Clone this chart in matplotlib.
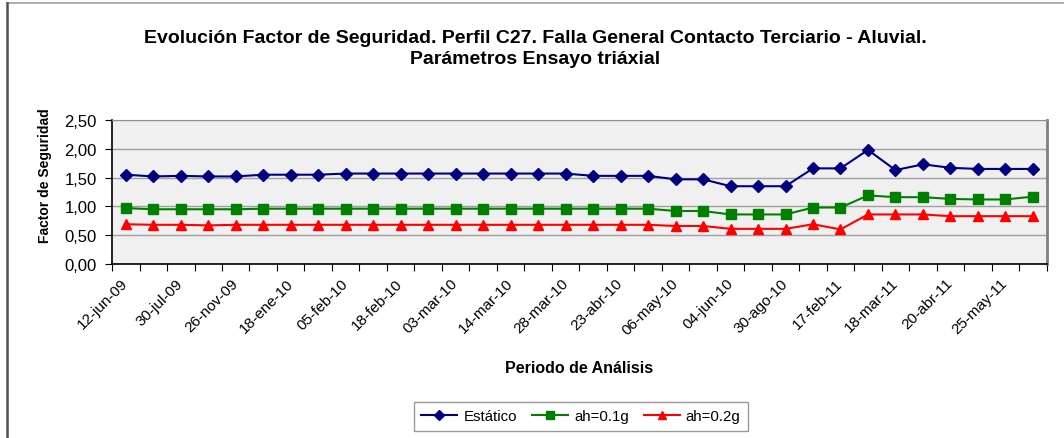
import matplotlib
matplotlib.use("Agg")
import matplotlib.pyplot as plt
from matplotlib.lines import Line2D
from matplotlib.ticker import FixedLocator, FuncFormatter
import numpy as np

plt.rcParams['font.family'] = ['Liberation Sans', 'DejaVu Sans']

# Fechas rotuladas (una de cada dos campañas de medida)
fechas = ['12-jun-09', '30-jul-09', '26-nov-09', '18-ene-10', '05-feb-10',
          '18-feb-10', '03-mar-10', '14-mar-10', '28-mar-10', '23-abr-10',
          '06-may-10', '04-jun-10', '30-ago-10', '17-feb-11', '18-mar-11',
          '20-abr-11', '25-may-11']

estatico = [1.55, 1.52, 1.53, 1.52, 1.52, 1.55, 1.55, 1.55, 1.57, 1.57, 1.57,
            1.57, 1.57, 1.57, 1.57, 1.57, 1.57, 1.53, 1.53, 1.53, 1.47, 1.47,
            1.35, 1.35, 1.35, 1.66, 1.66, 1.98, 1.63, 1.73, 1.67, 1.65, 1.65,
            1.65]
ah_01g = [0.97, 0.95, 0.95, 0.95, 0.95, 0.96, 0.96, 0.96, 0.96, 0.96, 0.96,
          0.96, 0.96, 0.96, 0.96, 0.96, 0.96, 0.96, 0.96, 0.96, 0.92, 0.92,
          0.86, 0.86, 0.86, 0.98, 0.98, 1.19, 1.16, 1.16, 1.13, 1.12, 1.12,
          1.17]
ah_02g = [0.69, 0.68, 0.68, 0.67, 0.68, 0.68, 0.68, 0.68, 0.68, 0.68, 0.68,
          0.68, 0.68, 0.68, 0.68, 0.68, 0.68, 0.68, 0.68, 0.68, 0.66, 0.66,
          0.61, 0.61, 0.61, 0.69, 0.60, 0.86, 0.86, 0.86, 0.83, 0.83, 0.83,
          0.83]

n = len(estatico)
x = np.arange(n)

fig = plt.figure(figsize=(10.64, 4.39), dpi=100)
ax = fig.add_axes([0.1053, 0.3964, 0.8784, 0.3280])
ax.set_facecolor('#F0F0F0')

ax.plot(x, estatico, color='#000080', marker='D', markersize=6, lw=1.5,
        label='Estático')
ax.plot(x, ah_01g, color='#008000', marker='s', markersize=7, lw=1.5,
        label='ah=0.1g')
ax.plot(x, ah_02g, color='#FF0000', marker='^', markersize=7, lw=1.5,
        label='ah=0.2g')

ax.set_xlim(-0.5, n - 0.5)
ax.set_ylim(0, 2.5)
ax.set_yticks(np.arange(0, 2.51, 0.5))
ax.yaxis.set_major_formatter(FuncFormatter(lambda v, p: f'{v:.2f}'.replace('.', ',')))
ax.grid(axis='y', color='#A0A0A0', lw=1)
ax.set_axisbelow(True)

# marcas entre categorías, rótulos en categorías pares
ax.xaxis.set_major_locator(FixedLocator(np.arange(-0.5, n, 1.0)))
ax.xaxis.set_major_formatter(FuncFormatter(lambda v, p: ''))
ax.xaxis.set_minor_locator(FixedLocator(x[::2]))
ax.set_xticklabels(fechas, minor=True, rotation=45, ha='right', va='center',
                   rotation_mode='anchor', fontsize=11)
ax.tick_params(axis='x', which='major', length=5, color='#000000')
ax.tick_params(axis='x', which='minor', length=0, pad=12)
ax.tick_params(axis='y', length=5, labelsize=12, pad=6)

for s in ('left', 'bottom'):
    ax.spines[s].set_color('black')
    ax.spines[s].set_linewidth(1.2)
ax.spines['top'].set_color('#909090')
ax.spines['right'].set_color('#808080')
ax.spines['right'].set_linewidth(2)

ax.set_xlabel('Periodo de Análisis', fontsize=11.5, fontweight='bold')
ax.xaxis.set_label_coords(0.5, -0.667)
ax.set_ylabel('Factor de Seguridad', fontsize=10, fontweight='bold')
ax.yaxis.set_label_coords(-0.064, 0.62)

fig.text(0.503, 0.888,
         'Evolución Factor de Seguridad. Perfil C27. Falla General Contacto Terciario - Aluvial.\n'
         'Parámetros Ensayo triáxial',
         ha='center', va='center', fontsize=14, fontweight='bold',
         linespacing=1.3)

leg = ax.legend(loc='center', ncol=3, fontsize=10.8, frameon=True,
                fancybox=False, edgecolor='#808080', handlelength=2.4,
                markerscale=0.8, columnspacing=1.0, handletextpad=0.4,
                borderpad=0.5, borderaxespad=0)
leg.get_frame().set_linewidth(1)
leg.set_bbox_to_anchor((0.546, 0.049), transform=fig.transFigure)

# marco del gráfico
fig.add_artist(Line2D([0.0066, 1.0], [0.990, 0.990], transform=fig.transFigure,
                      color='#A0A0A0', lw=1.2))
fig.add_artist(Line2D([0.0066, 0.0066], [0.0, 0.990], transform=fig.transFigure,
                      color='#505050', lw=1.8))

fig.savefig('out.png', dpi=100, facecolor='white')
